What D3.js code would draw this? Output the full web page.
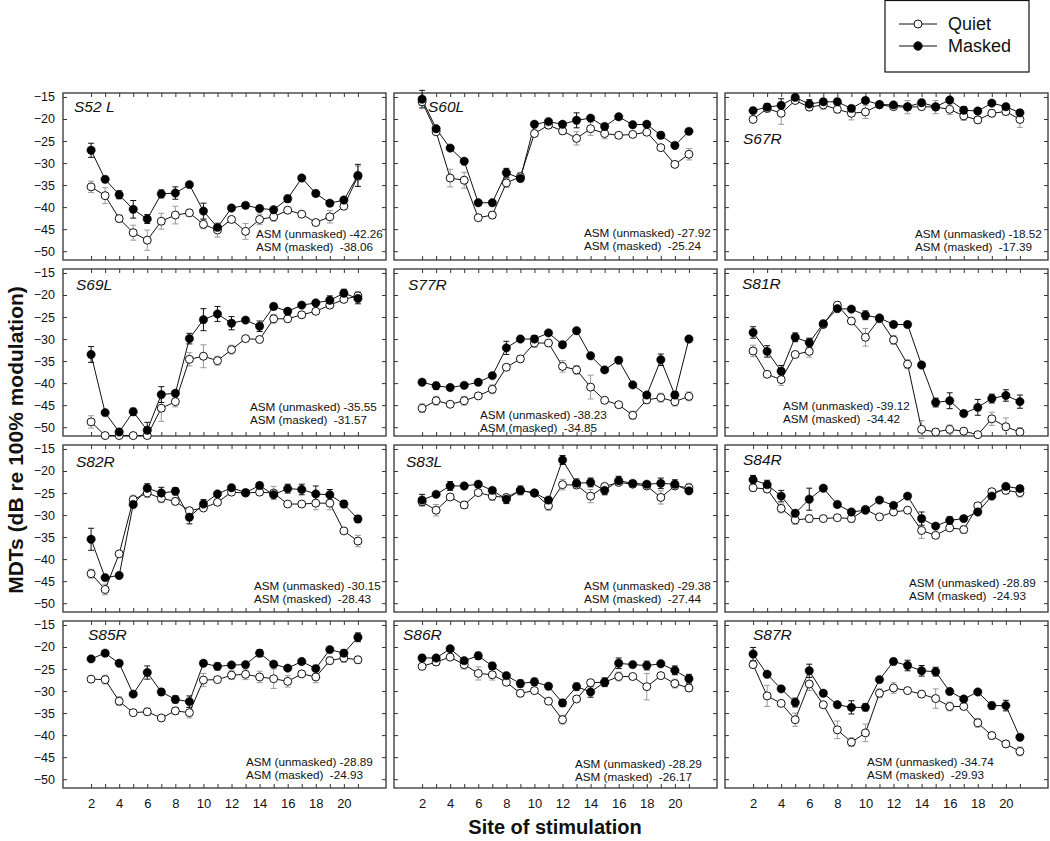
<!DOCTYPE html>
<html><head><meta charset="utf-8">
<script src="https://cdn.jsdelivr.net/npm/d3@7"></script>
<style>
body{margin:0;background:#fff}
text{font-family:"Liberation Sans",Arial,Helvetica,sans-serif}
</style>
</head><body>
<svg id="chart" width="1050" height="841"></svg>
<script>
// ---------- data ----------
const sites = [2,3,4,5,6,7,8,9,10,11,12,13,14,15,16,17,18,19,20,21];
const xTickLabels = [2,4,6,8,10,12,14,16,18,20];
const yTickValues = [-15,-20,-25,-30,-35,-40,-45,-50];
const seriesNames = ["Quiet","Masked"];
const panelNames = ["S52 L","S60L","S67R","S69L","S77R","S81R","S82R","S83L","S84R","S85R","S86R","S87R"];
const asmUnmasked = ["-42.26","-27.92","-18.52","-35.55","-38.23","-39.12","-30.15","-29.38","-28.89","-28.89","-28.29","-34.74"];
const asmMasked   = ["-38.06","-25.24","-17.39","-31.57","-34.85","-34.42","-28.43","-27.44","-24.93","-24.93","-26.17","-29.93"];

const S52L_q  = [-35.4,-37.4,-42.6,-45.8,-47.5,-43.2,-41.8,-41.3,-43.9,-45.2,-42.8,-45.5,-42.8,-42.2,-40.7,-41.6,-43.5,-42.2,-39.8,-33.0];
const S52L_qe = [1.3,1.8,0.8,1.7,2.3,1.8,2.0,0.8,1.0,1.6,0.5,1.8,1.2,1.0,0.5,0.3,0.6,1.4,0.5,2.3];
const S52L_m  = [-27.1,-33.7,-37.2,-40.5,-42.7,-37.0,-36.8,-34.9,-40.9,-44.6,-40.2,-39.6,-40.3,-40.6,-38.1,-33.4,-36.9,-39.1,-38.4,-32.8];
const S52L_me = [1.6,0.7,0.9,2.0,1.0,0.9,1.4,0.5,1.8,0.5,0.6,0.6,0.5,0.6,0.8,0.5,0.7,0.5,0.5,2.5];

const S60L_q  = [-16.1,-22.9,-33.4,-33.9,-42.4,-41.8,-34.5,-33.1,-23.3,-21.4,-22.7,-24.4,-22.2,-23.3,-23.7,-23.5,-23.0,-26.5,-30.3,-28.0];
const S60L_qe = [0.8,0.6,2.0,1.8,0.6,0.8,1.0,1.0,0.6,0.6,0.8,1.5,1.5,1.2,0.6,0.6,0.6,0.6,0.5,1.3];
const S60L_m  = [-15.5,-22.2,-26.6,-29.6,-39.0,-39.0,-32.2,-33.5,-21.2,-20.6,-21.2,-20.3,-19.8,-21.7,-19.5,-21.3,-21.2,-23.7,-26.0,-22.8];
const S60L_me = [2.0,0.5,0.5,0.5,0.5,0.5,1.0,0.6,0.5,0.5,0.5,1.7,0.5,0.5,0.5,0.5,0.5,0.7,0.5,0.5];

const S67R_q  = [-20.1,-17.6,-18.7,-15.8,-17.3,-16.8,-17.8,-18.7,-18.4,-16.8,-17.2,-17.3,-17.2,-17.3,-17.8,-19.3,-20.2,-18.7,-18.3,-20.1];
const S67R_qe = [0.6,0.8,2.5,0.6,0.8,1.0,0.8,1.5,1.5,0.6,0.5,1.5,0.6,1.5,1.2,1.0,0.8,0.8,0.8,1.8];
const S67R_m  = [-18.1,-17.3,-16.9,-15.1,-16.6,-16.1,-16.1,-17.6,-15.8,-16.7,-16.8,-17.2,-16.3,-17.2,-15.7,-18.0,-18.2,-16.4,-17.2,-18.6];
const S67R_me = [0.6,0.8,1.5,0.6,1.0,0.6,0.6,0.6,0.6,0.5,0.5,0.5,0.6,0.5,0.6,0.8,0.6,0.5,0.6,0.7];

const S69L_q  = [-48.8,-51.9,-51.9,-51.9,-51.9,-45.7,-44.2,-34.6,-33.9,-34.9,-32.4,-29.9,-30.1,-25.4,-25.4,-24.5,-23.7,-22.3,-21.0,-20.2];
const S69L_qe = [1.4,0.3,0.3,0.3,0.3,3.0,1.2,1.5,2.6,1.0,1.0,0.5,0.5,1.0,0.5,0.5,0.5,0.5,0.5,1.0];
const S69L_m  = [-33.5,-46.7,-51.1,-46.5,-50.7,-42.6,-42.3,-29.9,-25.6,-24.3,-26.4,-25.7,-27.1,-22.6,-23.7,-22.3,-21.8,-21.2,-19.6,-20.8];
const S69L_me = [1.8,0.5,0.7,0.8,1.8,1.8,0.5,1.2,2.5,1.7,1.5,0.5,1.2,0.7,0.5,0.5,0.5,1.0,0.9,1.2];

const S77R_q  = [-45.7,-44.0,-44.8,-44.0,-42.9,-41.4,-36.4,-34.5,-30.9,-30.9,-36.2,-37.0,-40.9,-43.9,-44.9,-47.3,-43.8,-43.3,-44.2,-43.0];
const S77R_qe = [1.0,1.0,0.5,1.0,0.5,1.0,0.5,0.5,1.0,0.5,1.3,1.0,2.7,0.5,0.5,0.9,0.8,1.0,1.0,1.0];
const S77R_m  = [-39.8,-40.6,-41.0,-40.5,-39.8,-38.3,-32.0,-30.0,-30.0,-28.6,-31.3,-28.1,-33.8,-37.0,-34.8,-40.4,-42.7,-34.7,-42.7,-30.0];
const S77R_me = [0.5,0.8,0.5,0.5,0.5,0.5,1.5,0.5,0.8,0.5,0.6,0.5,0.5,0.5,0.5,0.5,0.5,1.3,0.8,0.6];

const S81R_q  = [-32.7,-38.0,-39.2,-33.5,-32.8,-26.7,-22.3,-25.9,-29.6,-25.4,-30.2,-35.7,-50.5,-51.1,-50.5,-50.9,-51.7,-48.1,-49.9,-51.1];
const S81R_qe = [1.3,0.5,1.3,0.5,1.3,0.5,0.5,0.5,2.0,0.5,1.0,1.0,2.0,0.8,1.0,0.5,0.3,1.5,2.0,1.0];
const S81R_m  = [-28.5,-32.8,-37.3,-29.6,-30.8,-26.5,-23.1,-23.2,-24.6,-25.2,-26.7,-26.7,-35.9,-44.4,-44.0,-46.9,-45.5,-43.5,-42.8,-44.2];
const S81R_me = [1.3,1.3,1.3,1.0,1.0,0.5,0.5,0.5,1.0,0.5,0.5,0.5,0.5,1.0,1.8,0.5,1.8,1.0,1.3,1.5];

const S82R_q  = [-43.3,-46.9,-38.8,-26.5,-25.0,-26.2,-26.9,-29.0,-28.4,-27.1,-24.8,-25.0,-24.8,-25.0,-27.5,-27.5,-27.3,-27.3,-33.6,-35.9];
const S82R_qe = [1.0,1.2,0.5,1.0,1.0,1.0,0.8,0.5,0.5,0.5,0.5,0.5,0.5,1.5,0.5,0.5,1.5,1.5,0.5,1.3];
const S82R_m  = [-35.5,-44.2,-43.7,-27.6,-23.9,-25.0,-24.6,-30.5,-27.5,-25.2,-23.8,-24.9,-23.3,-25.4,-24.0,-24.2,-25.2,-25.4,-27.5,-30.9];
const S82R_me = [2.5,0.5,0.5,0.5,1.0,1.3,0.8,1.5,1.0,0.5,0.5,0.5,0.7,0.5,1.0,1.2,1.8,1.2,0.8,0.8];

const S83L_q  = [-27.0,-28.9,-25.9,-27.7,-24.9,-25.7,-26.0,-24.4,-25.0,-27.9,-23.1,-23.2,-25.7,-23.5,-22.6,-23.0,-23.4,-26.0,-23.4,-23.8];
const S83L_qe = [0.8,1.3,0.5,0.8,0.5,1.0,0.5,0.5,0.5,1.0,1.2,0.6,1.5,0.5,0.5,0.5,0.5,1.5,0.5,1.0];
const S83L_m  = [-26.6,-25.3,-23.4,-23.4,-23.0,-24.4,-26.4,-24.4,-25.0,-26.6,-17.5,-22.8,-22.6,-24.4,-22.2,-22.8,-23.0,-22.8,-23.0,-24.5];
const S83L_me = [1.3,0.5,1.0,0.6,0.5,0.6,1.0,1.0,0.5,0.6,1.0,1.0,1.0,1.0,1.0,0.6,0.6,1.2,1.0,0.5];

const S84R_q  = [-23.8,-24.1,-28.5,-31.1,-30.8,-30.8,-30.6,-30.8,-28.7,-30.4,-29.3,-28.9,-33.5,-34.6,-32.9,-33.3,-27.9,-24.7,-24.4,-24.9];
const S84R_qe = [0.8,0.8,1.0,1.0,0.8,0.5,0.5,0.8,0.5,0.5,0.5,0.5,1.8,0.5,0.5,0.8,0.5,0.5,0.8,1.0];
const S84R_m  = [-22.0,-23.1,-25.7,-29.6,-26.4,-23.9,-27.6,-29.3,-28.9,-26.6,-27.8,-25.7,-30.8,-32.5,-31.2,-30.8,-29.3,-25.7,-23.5,-24.0];
const S84R_me = [1.0,1.0,1.3,0.5,2.5,0.5,0.5,0.5,0.5,0.5,0.5,0.5,1.5,0.5,0.8,0.5,0.5,0.5,0.5,0.7];

const S85R_q  = [-27.3,-27.4,-32.3,-34.9,-34.7,-36.1,-34.5,-34.9,-27.5,-27.4,-26.4,-26.2,-26.8,-27.2,-27.8,-26.1,-26.8,-23.1,-22.5,-22.9];
const S85R_qe = [0.5,1.0,1.0,0.5,0.8,0.5,0.8,1.2,1.5,0.5,1.0,1.2,1.3,2.2,1.3,0.5,1.3,0.8,1.0,0.8];
const S85R_m  = [-22.7,-21.4,-23.7,-30.7,-25.8,-30.2,-31.9,-32.4,-23.7,-24.4,-24.1,-24.0,-21.4,-23.9,-24.8,-23.3,-24.9,-20.6,-21.4,-17.8];
const S85R_me = [0.5,0.5,0.5,0.5,1.5,0.7,0.8,1.3,0.5,0.8,0.5,0.5,0.8,0.5,0.5,0.5,0.5,0.5,0.7,1.0];

const S86R_q  = [-24.4,-23.4,-22.3,-24.0,-26.0,-26.3,-28.0,-30.5,-29.9,-32.3,-36.5,-31.8,-28.1,-28.0,-26.7,-26.7,-29.0,-26.5,-28.3,-29.3];
const S86R_qe = [0.5,0.8,0.5,1.0,1.5,1.2,0.5,0.8,0.5,0.5,1.0,0.5,0.5,0.5,1.0,0.5,3.0,0.5,1.0,0.8];
const S86R_m  = [-22.5,-22.5,-20.4,-23.1,-22.0,-24.3,-26.5,-28.3,-27.9,-28.9,-32.7,-29.0,-30.2,-28.0,-23.7,-24.0,-24.2,-23.8,-25.3,-27.2];
const S86R_me = [0.7,0.5,0.5,0.5,0.8,0.8,0.5,0.8,0.8,0.5,0.8,0.8,1.2,1.0,1.2,0.5,1.0,0.5,1.0,1.0];

const S87R_q  = [-24.0,-31.1,-32.8,-36.5,-28.4,-33.1,-38.8,-41.6,-39.5,-30.5,-29.3,-29.9,-30.7,-31.7,-33.5,-33.5,-37.2,-40.1,-42.0,-43.7];
const S87R_qe = [0.5,2.4,0.5,1.5,1.5,0.5,2.0,1.0,2.0,1.0,1.2,0.5,0.5,2.2,1.0,0.5,1.0,0.8,0.8,1.0];
const S87R_m  = [-21.6,-26.2,-29.5,-32.6,-25.4,-30.5,-33.1,-33.7,-33.7,-27.4,-23.3,-24.2,-25.4,-25.6,-30.1,-31.8,-30.2,-33.3,-33.3,-40.5];
const S87R_me = [1.5,0.5,0.5,1.0,1.5,0.5,0.5,1.5,0.8,0.5,0.5,1.2,1.2,1.0,0.5,0.5,0.5,0.8,1.2,0.5];

const quietSeries  = [S52L_q,S60L_q,S67R_q,S69L_q,S77R_q,S81R_q,S82R_q,S83L_q,S84R_q,S85R_q,S86R_q,S87R_q];
const quietErrors  = [S52L_qe,S60L_qe,S67R_qe,S69L_qe,S77R_qe,S81R_qe,S82R_qe,S83L_qe,S84R_qe,S85R_qe,S86R_qe,S87R_qe];
const maskedSeries = [S52L_m,S60L_m,S67R_m,S69L_m,S77R_m,S81R_m,S82R_m,S83L_m,S84R_m,S85R_m,S86R_m,S87R_m];
const maskedErrors = [S52L_me,S60L_me,S67R_me,S69L_me,S77R_me,S81R_me,S82R_me,S83L_me,S84R_me,S85R_me,S86R_me,S87R_me];

// ---------- layout (positions kept separate from data) ----------
const colX = [63, 394, 725];
const rowY = [93, 269, 445, 621];
const W = 323, H = 167;
// [label dx, label baseline dy, ASM text dx, ASM first baseline above bottom]
const textLayout = [
  [11,19,193,22],[34,19,190,23],[18,51,190,22],
  [13,21,187,25],[14,21,86,17],[17,20,58,26],
  [13,22,191,22],[12,22,190,22],[18,20,184,25],
  [25,19,183,22],[9,19,181,20],[28,19,142,22]
];

const svg = d3.select("#chart");
const x = d3.scaleLinear().domain([0,23]).range([0,W]);
const y = d3.scaleLinear().domain([-52,-14.1]).range([H,0]);
const frameColor = "#333";
const greyBar = "#9a9a9a";
const capW = 3;

panelNames.forEach((name, i) => {
  const col = i % 3, row = Math.floor(i / 3);
  const g = svg.append("g").attr("transform", `translate(${colX[col]},${rowY[row]})`);

  // inward ticks on all sides
  const tb = d3.axisBottom(x).tickValues(sites).tickSize(-4).tickFormat("");
  const tt = d3.axisTop(x).tickValues(sites).tickSize(-4).tickFormat("");
  const tl = d3.axisLeft(y).tickValues(yTickValues).tickSize(-4).tickFormat("");
  const tr = d3.axisRight(y).tickValues(yTickValues).tickSize(-4).tickFormat("");
  [[tb,`translate(0,${H})`],[tt,"translate(0,0)"],[tl,"translate(0,0)"],[tr,`translate(${W},0)`]].forEach(([ax,tf])=>{
    const a = g.append("g").attr("transform", tf).call(ax);
    a.select(".domain").remove();
    a.selectAll("line").attr("stroke", frameColor).attr("stroke-width", 1);
  });

  g.append("rect").attr("x",0).attr("y",0).attr("width",W).attr("height",H)
    .attr("fill","none").attr("stroke",frameColor).attr("stroke-width",1.3);

  if (col === 0) {
    const la = g.append("g").call(d3.axisLeft(y).tickValues(yTickValues).tickSize(0).tickPadding(8));
    la.select(".domain").remove();
    la.selectAll("text").attr("font-size","12.5px").attr("fill","#111")
      .attr("font-family",'"Liberation Sans",Arial,sans-serif');
  }
  if (row === 3) {
    const ba = g.append("g").attr("transform",`translate(0,${H})`)
      .call(d3.axisBottom(x).tickValues(xTickLabels).tickSize(0).tickPadding(11));
    ba.select(".domain").remove();
    ba.selectAll("text").attr("font-size","13px").attr("fill","#111")
      .attr("font-family",'"Liberation Sans",Arial,sans-serif');
  }

  const q = sites.map((s,k)=>({s, v: quietSeries[i][k], e: quietErrors[i][k]}));
  const m = sites.map((s,k)=>({s, v: maskedSeries[i][k], e: maskedErrors[i][k]}));

  const drawErr = (data, color) => {
    const eg = g.append("g").attr("stroke", color).attr("stroke-width", 1).attr("fill","none");
    data.forEach(d => {
      const cx = x(d.s), y1 = y(d.v + d.e), y2 = y(d.v - d.e);
      eg.append("line").attr("x1",cx).attr("x2",cx).attr("y1",y1).attr("y2",y2);
      eg.append("line").attr("x1",cx-capW).attr("x2",cx+capW).attr("y1",y1).attr("y2",y1);
      eg.append("line").attr("x1",cx-capW).attr("x2",cx+capW).attr("y1",y2).attr("y2",y2);
    });
  };
  drawErr(q, greyBar);
  drawErr(m, "#111");

  const line = d3.line().x(d=>x(d.s)).y(d=>y(d.v));
  g.append("path").datum(q).attr("d",line).attr("fill","none").attr("stroke","#111").attr("stroke-width",1);
  g.append("path").datum(m).attr("d",line).attr("fill","none").attr("stroke","#111").attr("stroke-width",1);

  g.selectAll(".q").data(q).enter().append("circle").attr("class","q")
    .attr("cx",d=>x(d.s)).attr("cy",d=>y(d.v)).attr("r",4)
    .attr("fill","#fff").attr("stroke","#111").attr("stroke-width",1);
  g.selectAll(".m").data(m).enter().append("circle").attr("class","m")
    .attr("cx",d=>x(d.s)).attr("cy",d=>y(d.v)).attr("r",4.2)
    .attr("fill","#000").attr("stroke","#000").attr("stroke-width",0.5);

  const [ldx, ldy, adx, ady] = textLayout[i];
  g.append("text").attr("x",ldx).attr("y",ldy).attr("font-size","15.5px")
    .attr("font-style","italic").attr("fill","#111").text(name);

  const t = g.append("text").attr("font-size","11.7px").attr("fill","#111").style("white-space","pre");
  t.append("tspan").attr("x",adx).attr("y",H-ady).text(`ASM (unmasked) ${asmUnmasked[i]}`);
  t.append("tspan").attr("x",adx).attr("y",H-ady+13).text(`ASM (masked)  ${asmMasked[i]}`);
});

// axis titles
svg.append("text").attr("transform","translate(23,440) rotate(-90)")
  .attr("text-anchor","middle").attr("font-size","21px").attr("font-weight","bold")
  .attr("fill","#111").text("MDTs (dB re 100% modulation)");
svg.append("text").attr("x",555).attr("y",834).attr("text-anchor","middle")
  .attr("font-size","20px").attr("font-weight","bold").attr("fill","#111").text("Site of stimulation");

// legend
const lg = svg.append("g");
lg.append("rect").attr("x",885).attr("y",0.5).attr("width",144).attr("height",71.5)
  .attr("fill","#fff").attr("stroke","#111").attr("stroke-width",1.2);
seriesNames.forEach((nm, k) => {
  const cy = 24 + k*22;
  lg.append("line").attr("x1",899).attr("x2",937).attr("y1",cy).attr("y2",cy).attr("stroke","#111");
  lg.append("circle").attr("cx",918).attr("cy",cy).attr("r",k===0?4:4.2)
    .attr("fill",k===0?"#fff":"#000").attr("stroke","#111").attr("stroke-width",1);
  lg.append("text").attr("x",948).attr("y",cy+6).attr("font-size","18px").attr("fill","#111").text(nm);
});
</script>
</body></html>
